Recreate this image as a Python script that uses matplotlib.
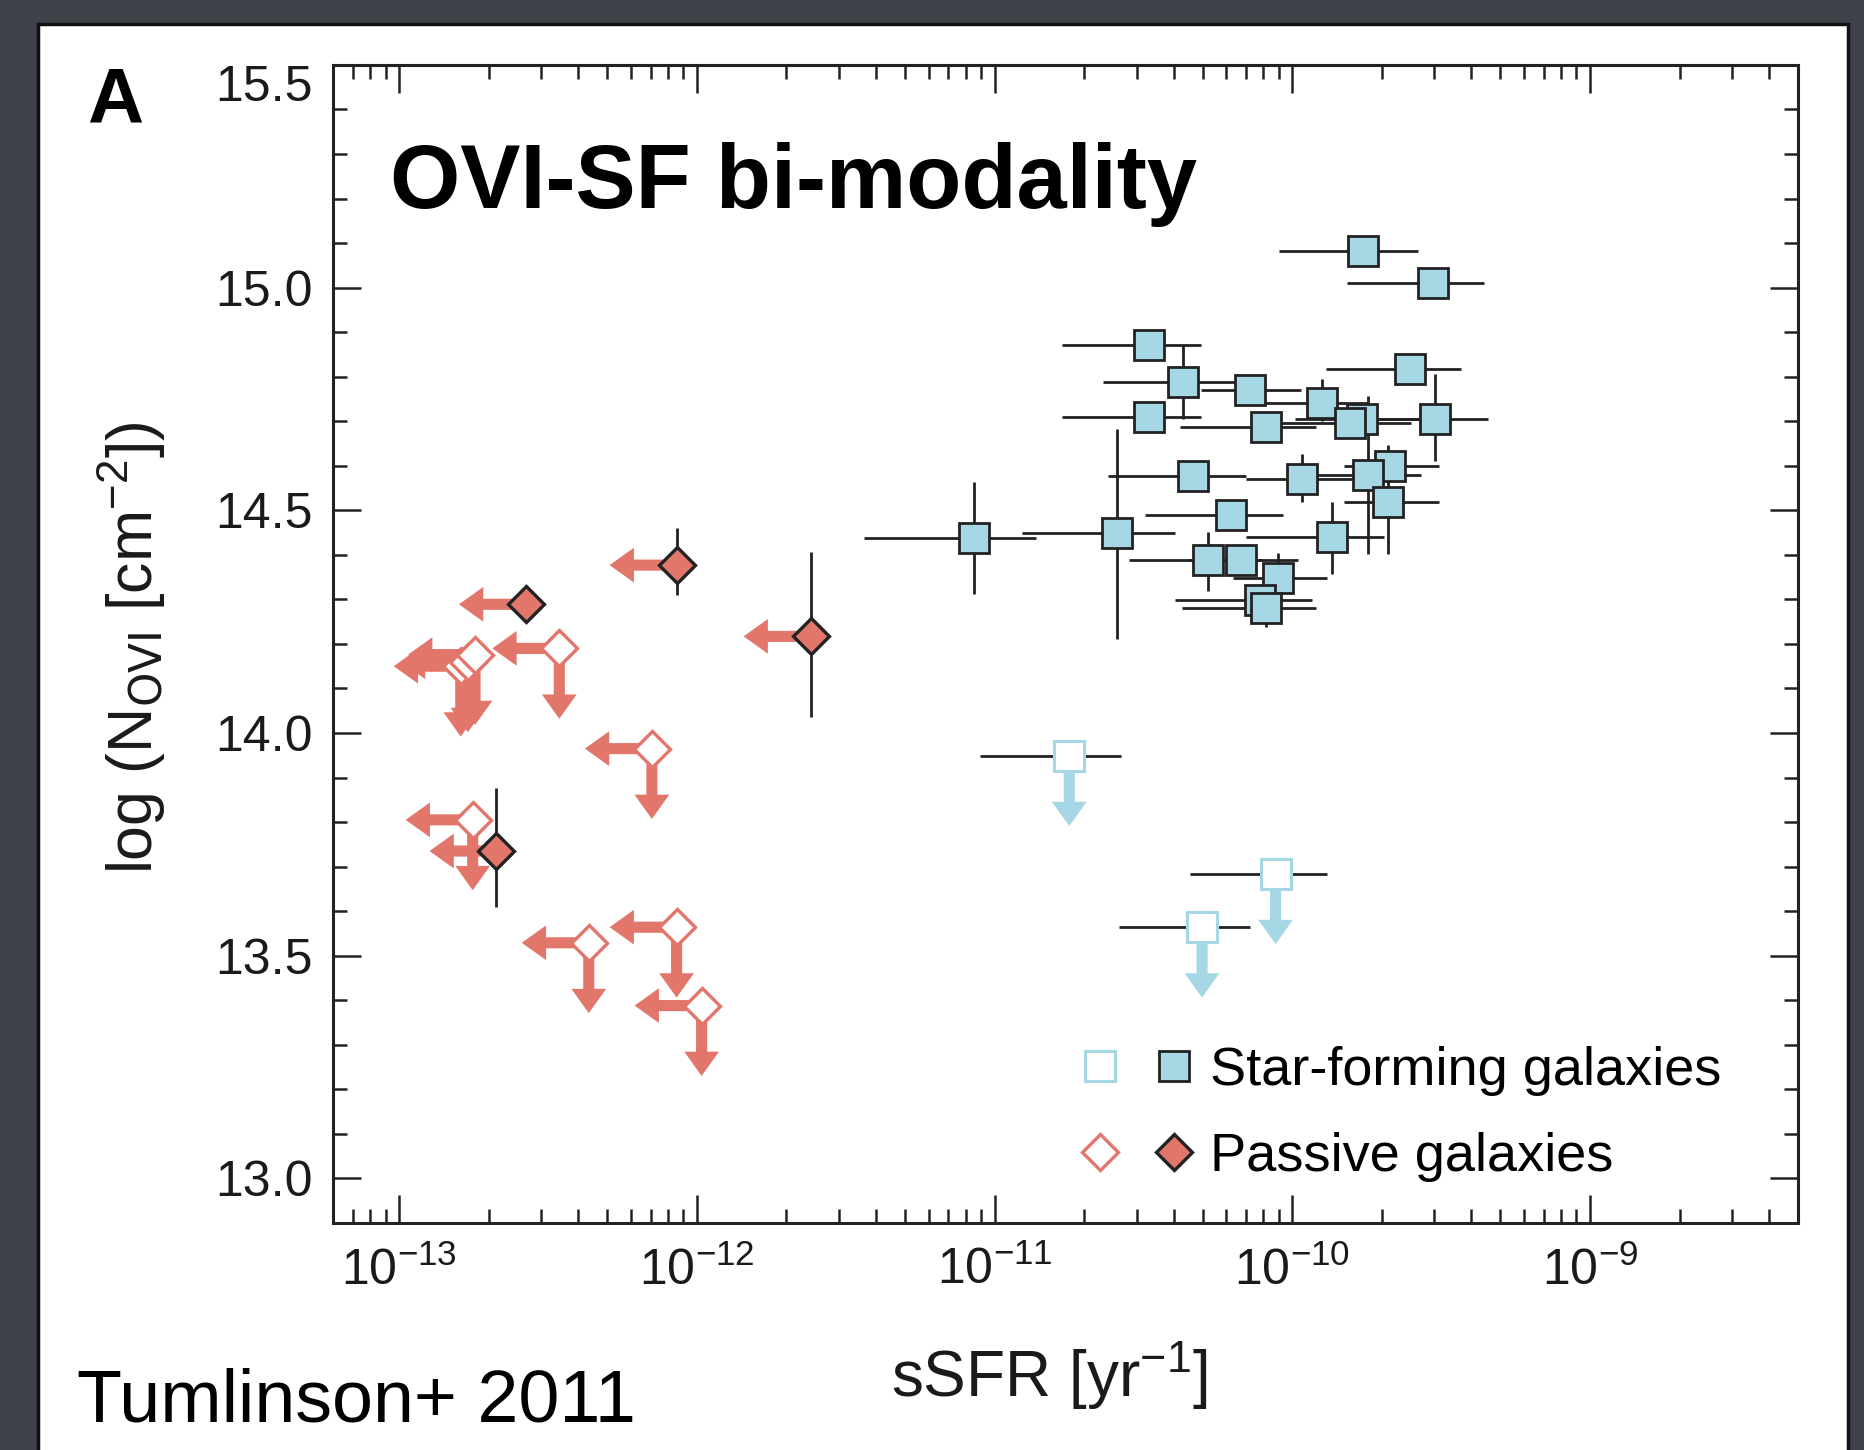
import numpy as np
import matplotlib
matplotlib.use('Agg')
import matplotlib.pyplot as plt
from matplotlib.lines import Line2D
from matplotlib.legend_handler import HandlerTuple
from matplotlib.patches import Rectangle, ArrowStyle
from matplotlib.ticker import (MultipleLocator, LogLocator, FixedLocator, NullFormatter,
                               FormatStrFormatter)

plt.rcParams['font.family'] = ['Liberation Sans', 'DejaVu Sans']
plt.rcParams['mathtext.default'] = 'regular'

# star-forming galaxies, detections (log sSFR, log N_OVI and their ranges)
sf_lssfr = [-9.761, -9.526, -10.482, -10.367, -10.143, -10.482, -10.088, -9.900, -9.765, -9.805,
            -9.606, -9.522, -10.335, -9.968, -9.673, -9.745, -9.677, -10.207, -10.590, -9.865,
            -10.283, -10.171, -10.048, -10.108, -10.088, -11.068]
sf_lssfr_lo = [-10.044, -9.817, -10.773, -10.637, -10.307, -10.773, -10.378, -10.127, -9.99, -10.10,
               -9.888, -9.825, -10.618, -10.155, -9.825, -9.984, -9.825, -10.494, -10.908, -10.155,
               -10.55, -10.35, -10.20, -10.394, -10.371, -11.438]
sf_lssfr_hi = [-9.578, -9.355, -10.307, -10.088, -9.972, -10.307, -9.920, -9.745, -9.55, -9.60,
               -9.434, -9.343, -10.155, -9.72, -9.506, -9.566, -9.506, -10.032, -10.394, -9.693,
               -10.10, -9.98, -9.884, -9.932, -9.920, -10.861]
sf_logN = [15.083, 15.011, 14.872, 14.789, 14.770, 14.709, 14.687, 14.741, 14.706, 14.695,
           14.818, 14.706, 14.578, 14.570, 14.599, 14.580, 14.519, 14.489, 14.449, 14.441,
           14.388, 14.388, 14.348, 14.299, 14.281, 14.439]
sf_logN_err_lo = [0, 0, 0, 0.083, 0, 0, 0, 0.04, 0, 0,
                  0, 0.096, 0, 0.051, 0, 0.179, 0.118, 0, 0.238, 0.085,
                  0.070, 0, 0.048, 0, 0.043, 0.126]
sf_logN_err_hi = [0, 0, 0, 0.083, 0, 0, 0, 0.053, 0, 0,
                  0, 0.101, 0, 0.056, 0, 0.177, 0.128, 0, 0.233, 0.078,
                  0.064, 0, 0.056, 0, 0.039, 0.125]

# star-forming galaxies, upper limits on N_OVI
sfu_lssfr = [-10.749, -10.056, -10.303]
sfu_lssfr_lo = [-11.048, -10.343, -10.582]
sfu_lssfr_hi = [-10.574, -9.884, -10.143]
sfu_logN = [13.949, 13.684, 13.564]

# passive galaxies, detections (upper limits on sSFR)
pd_lssfr = [-12.574, -12.068, -11.618, -12.673]
pd_logN = [14.289, 14.377, 14.217, 13.735]
pd_logN_err_lo = [0, 0.067, 0.180, 0.125]
pd_logN_err_hi = [0, 0.083, 0.189, 0.142]

# passive galaxies, upper limits on both
pu_lssfr = [-12.793, -12.769, -12.745, -12.462, -12.151, -12.753, -12.363, -12.068, -11.984]
pu_logN = [14.150, 14.160, 14.176, 14.190, 13.965, 13.805, 13.529, 13.564, 13.388]

# axis ticks
x_decades = [-13, -12, -11, -10, -9]
y_major = [13.0, 13.5, 14.0, 14.5, 15.0, 15.5]

blue = '#a6d7e4'
salmon = '#e2766b'
dark = '#222222'
arrow_dex = 0.225   # length of sSFR limit arrows
arrow_N = 0.158     # length of N_OVI limit arrows

fig = plt.figure(figsize=(18.65, 14.5), dpi=100)
fig.patch.set_facecolor('#3e4148')
fig.add_artist(Rectangle((0.0204, -0.02), 0.9706, 1.0034, transform=fig.transFigure,
                         facecolor='white', edgecolor='#111111', lw=2.5, zorder=0))

ax = fig.add_axes([0.1786, 0.1566, 0.7855, 0.7986])
ax.set_xscale('log')
ax.set_xlim(6e-14, 5e-9)
ax.set_ylim(12.9, 15.5)

arrow_style = ArrowStyle.Simple(head_length=0.7, head_width=1.0, tail_width=0.32)


def limit_arrow(x0, y0, x1, y1, color):
    ax.annotate('', xy=(x1, y1), xytext=(x0, y0),
                arrowprops=dict(arrowstyle=arrow_style, mutation_scale=25, color=color,
                                shrinkA=0, shrinkB=0, lw=0),
                zorder=3)


# star-forming detections
x = 10 ** np.array(sf_lssfr)
xerr = [x - 10 ** np.array(sf_lssfr_lo), 10 ** np.array(sf_lssfr_hi) - x]
ax.errorbar(x, sf_logN, xerr=xerr, yerr=[sf_logN_err_lo, sf_logN_err_hi], fmt='s', ms=21,
            mfc=blue, mec=dark, mew=2.0, ecolor=dark, elinewidth=2.0, capsize=0, zorder=5)

# star-forming upper limits
x = 10 ** np.array(sfu_lssfr)
for xi, yi in zip(x, sfu_logN):
    limit_arrow(xi, yi, xi, yi - arrow_N, blue)
xerr = [x - 10 ** np.array(sfu_lssfr_lo), 10 ** np.array(sfu_lssfr_hi) - x]
ax.errorbar(x, sfu_logN, xerr=xerr, fmt='s', ms=21, mfc='white', mec=blue, mew=2.2,
            ecolor=dark, elinewidth=2.0, capsize=0, zorder=4)

# passive upper limits (open diamonds)
x = 10 ** np.array(pu_lssfr)
for xi, yi in zip(x, pu_logN):
    limit_arrow(xi, yi, xi * 10 ** -arrow_dex, yi, salmon)
    limit_arrow(xi, yi, xi, yi - arrow_N, salmon)
ax.plot(x, pu_logN, ls='none', marker='D', ms=18, mfc='white', mec=salmon, mew=2.4, zorder=4)

# passive detections (filled diamonds)
x = 10 ** np.array(pd_lssfr)
for xi, yi in zip(x, pd_logN):
    limit_arrow(xi, yi, xi * 10 ** -arrow_dex, yi, salmon)
ax.errorbar(x, pd_logN, yerr=[pd_logN_err_lo, pd_logN_err_hi], fmt='D', ms=18,
            mfc=salmon, mec=dark, mew=2.4, ecolor=dark, elinewidth=2.0, capsize=0, zorder=6)

# axes styling
for sp in ax.spines.values():
    sp.set_linewidth(2.2)
    sp.set_color(dark)
ax.yaxis.set_major_locator(FixedLocator(y_major))
ax.yaxis.set_minor_locator(MultipleLocator(0.1))
ax.yaxis.set_major_formatter(FormatStrFormatter('%.1f'))
ax.xaxis.set_major_locator(FixedLocator(10.0 ** np.array(x_decades)))
ax.xaxis.set_minor_locator(LogLocator(base=10, subs=np.arange(2, 10), numticks=20))
ax.xaxis.set_minor_formatter(NullFormatter())
ax.tick_params(which='both', direction='in', top=True, right=True, width=1.8, color=dark)
ax.tick_params(which='major', length=20)
ax.tick_params(which='minor', length=10)
ax.tick_params(axis='y', labelsize=36, pad=15, labelcolor='#1a1a1a')
ax.tick_params(axis='x', labelsize=36, pad=17, labelcolor='#1a1a1a')
ax.set_xticklabels(['$10^{%d}$' % d for d in x_decades])
# the top label sits below its tick in the original
ylabels = ax.get_yticklabels()
ylabels[-1].set_verticalalignment('top')

# legend
h_sf_open = Line2D([], [], ls='none', marker='s', ms=21, mfc='white', mec=blue, mew=2.2)
h_sf_fill = Line2D([], [], ls='none', marker='s', ms=21, mfc=blue, mec=dark, mew=2.0)
h_p_open = Line2D([], [], ls='none', marker='D', ms=18, mfc='white', mec=salmon, mew=2.4)
h_p_fill = Line2D([], [], ls='none', marker='D', ms=18, mfc=salmon, mec=dark, mew=2.4)
ax.legend([(h_sf_open, h_sf_fill), (h_p_open, h_p_fill)],
          ['Star-forming galaxies', 'Passive galaxies'],
          handler_map={tuple: HandlerTuple(ndivide=None, pad=0.63)},
          loc='upper left', bbox_to_anchor=(0.51, 0.153), frameon=False, fontsize=39,
          handlelength=2.1, handletextpad=0.3, labelspacing=0.67,
          borderpad=0, borderaxespad=0)

# texts
fig.text(0.0467, 0.9155, 'A', fontsize=56, fontweight='bold', va='baseline')
fig.text(0.2091, 0.8566, 'OVI-SF bi-modality', fontsize=65, fontweight='bold', va='baseline')
fig.text(0.0711, 0.553, r'log (N$_{\rm OVI}$ [cm$^{-2}$])', rotation=90,
         ha='center', va='center', fontsize=45, color='#1a1a1a')
fig.text(0.5625, 0.0366, r'sSFR [yr$^{-1}$]', ha='center', va='baseline', fontsize=46,
         color='#1a1a1a')
fig.text(0.0415, 0.02, 'Tumlinson+ 2011', fontsize=53, va='baseline')

fig.savefig('out.png', dpi=100, facecolor=fig.get_facecolor())
